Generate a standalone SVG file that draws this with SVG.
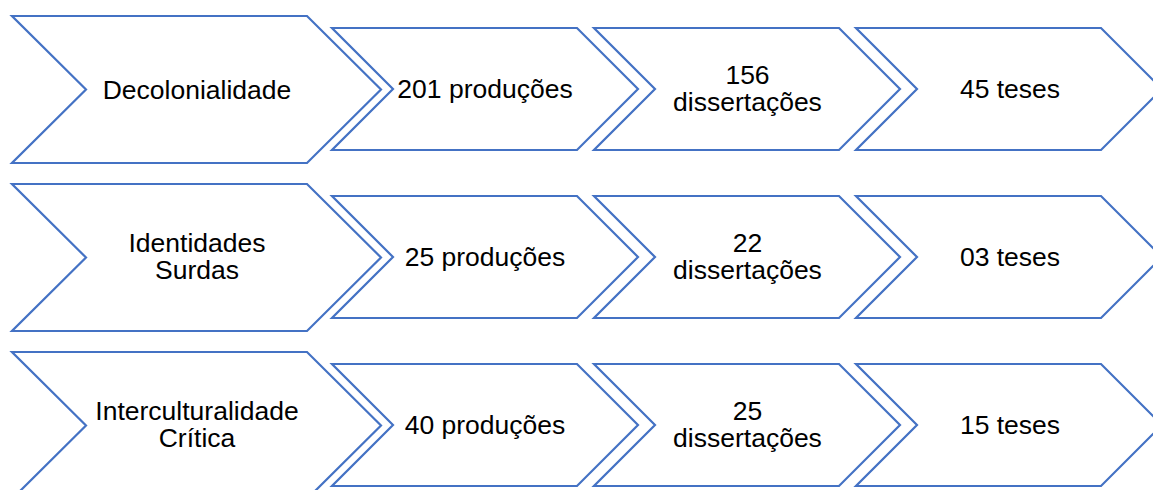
<svg xmlns="http://www.w3.org/2000/svg" width="1153" height="490" viewBox="0 0 1153 490">
<style>
.chev{fill:#ffffff;stroke:#4472C4;stroke-width:2.2;stroke-linejoin:miter}
.lbl{font-family:"Liberation Sans",Arial,sans-serif;font-size:26.5px;fill:#000000;text-anchor:middle}
</style>
<rect width="1153" height="490" fill="#ffffff"/>
<g id="connectors"/>
<!-- Row 1 -->
<g id="decolonialidade">
<polygon class="chev" points="12,16 307,16 381,89.5 307,163 12,163 86,89.5"/>
<text class="lbl" x="197" y="98.5">Decolonialidade</text>
</g>
<g id="r1-producoes">
<polygon class="chev" points="332,28 577,28 638,89 577,150 332,150 393,89"/>
<text class="lbl" x="485" y="98">201 produções</text>
</g>
<g id="r1-dissertacoes">
<polygon class="chev" points="594,28 839,28 900,89 839,150 594,150 655,89"/>
<text class="lbl" x="747.5" y="83.5">156</text>
<text class="lbl" x="747.5" y="111">dissertações</text>
</g>
<g id="r1-teses">
<polygon class="chev" points="856,28 1101,28 1162,89 1101,150 856,150 917,89"/>
<text class="lbl" x="1010" y="98">45 teses</text>
</g>
<!-- Row 2 -->
<g id="identidades-surdas">
<polygon class="chev" points="12,184 307,184 381,257.5 307,331 12,331 86,257.5"/>
<text class="lbl" x="197" y="251.5">Identidades</text>
<text class="lbl" x="197" y="279">Surdas</text>
</g>
<g id="r2-producoes">
<polygon class="chev" points="332,196 577,196 638,257 577,318 332,318 393,257"/>
<text class="lbl" x="485" y="266">25 produções</text>
</g>
<g id="r2-dissertacoes">
<polygon class="chev" points="594,196 839,196 900,257 839,318 594,318 655,257"/>
<text class="lbl" x="747.5" y="251.5">22</text>
<text class="lbl" x="747.5" y="279">dissertações</text>
</g>
<g id="r2-teses">
<polygon class="chev" points="856,196 1101,196 1162,257 1101,318 856,318 917,257"/>
<text class="lbl" x="1010" y="266">03 teses</text>
</g>
<!-- Row 3 -->
<g id="interculturalidade-critica">
<polygon class="chev" points="12,352 307,352 381,425.5 307,499 12,499 86,425.5"/>
<text class="lbl" x="197" y="419.5">Interculturalidade</text>
<text class="lbl" x="197" y="447">Crítica</text>
</g>
<g id="r3-producoes">
<polygon class="chev" points="332,364 577,364 638,425 577,486 332,486 393,425"/>
<text class="lbl" x="485" y="434">40 produções</text>
</g>
<g id="r3-dissertacoes">
<polygon class="chev" points="594,364 839,364 900,425 839,486 594,486 655,425"/>
<text class="lbl" x="747.5" y="419.5">25</text>
<text class="lbl" x="747.5" y="447">dissertações</text>
</g>
<g id="r3-teses">
<polygon class="chev" points="856,364 1101,364 1162,425 1101,486 856,486 917,425"/>
<text class="lbl" x="1010" y="434">15 teses</text>
</g>
</svg>
